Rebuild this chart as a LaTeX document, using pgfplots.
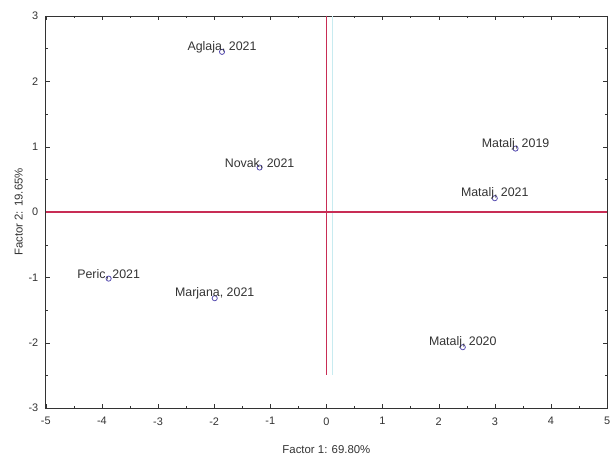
\documentclass[border=0pt]{standalone}
\usepackage{pgfplots}
\pgfplotsset{compat=1.18}
\usepackage{fontspec}
\setmainfont{Liberation Sans}
\definecolor{redline}{RGB}{200,45,85}
\definecolor{markc}{RGB}{85,75,175}
\definecolor{ghost}{RGB}{200,235,240}
\begin{document}
\begin{tikzpicture}
\begin{axis}[
  scale only axis,
  width=564bp, height=394bp,
  xmin=-5, xmax=5, ymin=-3, ymax=3,
  xtick={-5,...,5}, ytick={-3,...,3},
  minor x tick num=1, minor y tick num=1,
  tick align=inside,
  major tick length=4bp, minor tick length=2.5bp,
  axis line style={black!80, line width=0.8pt},
  tick style={black!80},
  /pgf/number format/assume math mode=true,
  ticklabel style={font=\fontsize{11}{13}\selectfont, text=black!80},
  yticklabel style={xshift=-4bp},
  xticklabel style={yshift=-6bp},
  xlabel={Factor 1: 69.80\%},
  ylabel={Factor 2: 19.65\%},
  label style={font=\fontsize{11.5}{13}\selectfont, text=black!80},
  xlabel style={yshift=-14bp},
  ylabel style={yshift=-1bp},
  clip=false,
  unbounded coords=jump,
]
\addplot[color=ghost, line width=0.8pt] coordinates {(0.1,3) (0.1,-2.5)};
\addplot[color=redline, line width=1.4pt] coordinates {(-5,0) (5,0) (nan,nan) (0,3) (0,-2.5)};
\addplot[only marks, mark=o, mark size=2.6bp, color=markc, thick,
  nodes near coords, point meta=explicit symbolic,
  every node near coord/.style={font=\fontsize{12.5}{14}\selectfont, text=black!80, anchor=south, yshift=-5bp}]
  table[meta=label, col sep=comma] {
x,y,label
-1.86,2.45,{Aglaja, 2021}
-1.19,0.68,{Novak, 2021}
3.37,0.97,{Matalj, 2019}
3.00,0.21,{Matalj, 2021}
-3.88,-1.02,{Peric, 2021}
-1.99,-1.32,{Marjana, 2021}
2.43,-2.07,{Matalj, 2020}
};
\end{axis}
\pgfresetboundingbox
\path ([shift={(-46bp,-49bp)}]current axis.south west) rectangle ([shift={(6bp,16bp)}]current axis.north east);
\end{tikzpicture}
\end{document}
